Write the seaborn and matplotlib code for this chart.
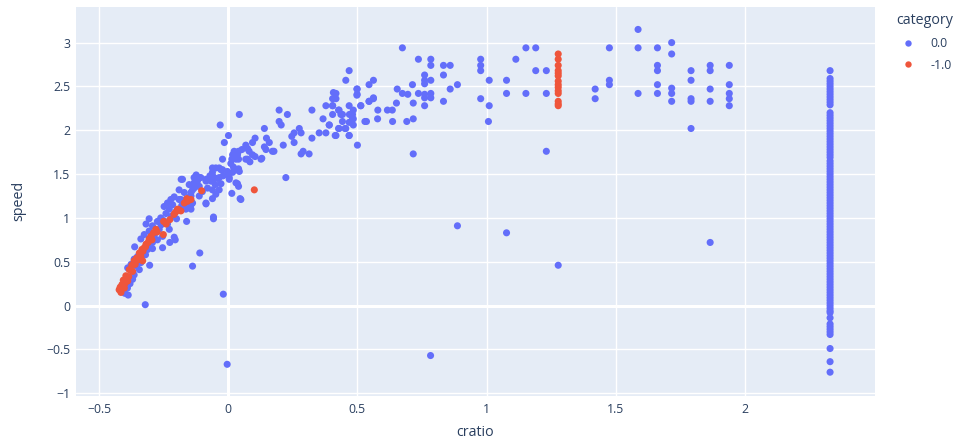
import matplotlib
matplotlib.use("Agg")
import matplotlib.pyplot as plt
import seaborn as sns
import pandas as pd

# ---------------- data ----------------
blue_x = [
    -0.110, -0.138, -0.019, -0.321, -0.182, -0.124, -0.306, -0.362, -0.304, -0.387,
    -0.205, -0.226, -0.254, -0.293, -0.209, -0.228, -0.235, -0.200, -0.161, -0.144,
    -0.138, -0.112, -0.086, -0.048, -0.035, -0.050, -0.067, -0.086, -0.112, -0.132,
    -0.144, -0.164, -0.190, -0.215, -0.228, -0.241, -0.261, -0.274, -0.293, -0.306,
    -0.325, -0.338, -0.286, -0.267, -0.254, -0.274, -0.293, -0.312, -0.331, -0.351,
    -0.364, -0.376, -0.389, -0.338, -0.344, -0.364, -0.370, -0.402, -0.396, -0.409,
    -0.318, -0.248, -0.235, -0.222, -0.209, -0.170, -0.132, -0.112, -0.061, -0.022,
    -0.035, -0.061, 0.030, 0.030, 0.036, 0.075, 0.094, 0.130, 0.171, 0.043,
    -0.003, -0.161, -0.057, 0.049,
    -0.400, -0.390, -0.380, -0.370, -0.355, -0.350, -0.340, -0.320, -0.310, -0.300,
    -0.280, -0.260, -0.250, -0.220, -0.200, -0.180, -0.170, -0.150, -0.100, -0.080,
    -0.060, -0.040, -0.020, 0.000, 0.010, 0.020,
    0.407, 0.417, 0.498, 0.498, 0.562, 0.545, 0.378, 0.404, 0.197, 0.229,
    0.324, 0.043, 0.197, 0.205, 0.429, 0.442, 0.481, 0.468, 0.481, 0.513,
    0.529, 0.535, 0.367, 0.391, 0.429, 0.452, 0.352, 0.378, 0.417, 0.468,
    0.500, 0.275, 0.282, 0.255, 0.246, 0.255, 0.324, 0.290, 0.282, 0.313,
    0.213, 0.177, 0.140, 0.148, 0.159, 0.140, 0.146, 0.104, 0.094, 0.068,
    0.053, 0.040, 0.023, 0.075, 0.081, 0.001, -0.015, -0.031, 0.017, 0.032,
    -0.022, 0.014, 0.040, 0.068, 0.084, 0.104, 0.127, 0.030, 0.040, 0.017,
    0.004, -0.048, -0.028, -0.061, -0.071, -0.054, -0.035, -0.086, -0.028, 0.004,
    0.036, 0.040, 0.223, 0.014, 0.046, -0.086, -0.061, -0.061, -0.138, -0.125,
    -0.119, -0.106, -0.132, -0.151, -0.177, -0.190, -0.144, -0.144, -0.183, -0.164,
    -0.057,
    0.674, 0.736, 0.784, 0.784, 0.833, 0.859, 0.760, 0.760, 0.760, 0.784,
    0.833, 0.859, 0.887, 0.713, 0.654, 0.674, 0.695, 0.736, 0.760, 0.760,
    0.784, 0.784, 0.716, 0.760, 0.833, 0.651, 0.579, 0.616, 0.635, 0.578,
    0.636, 0.691, 0.716, 0.716, 0.977, 0.977, 0.977, 1.010, 1.077, 1.113,
    1.152, 1.190, 1.190, 0.977, 1.010, 1.007, 1.077, 1.152, 0.468, 0.455,
    0.417, 0.404, 0.499, 0.499, 0.545, 0.562, 0.562, 0.545, 0.404, 0.427,
    0.436, 0.404, 0.468, 0.469, 0.484, 0.484, 0.513, 0.442, 0.391, 0.427,
    0.455, 0.484, 0.414, 0.468,
    1.231, 1.231, 1.420, 1.420, 1.475, 1.475, 1.475, 1.586, 1.586, 1.586,
    1.661, 1.661, 1.661, 1.661, 1.661, 1.716, 1.716, 1.716, 1.716, 1.716,
    1.791, 1.791, 1.791, 1.791, 1.791, 1.865, 1.865, 1.865, 1.865, 1.939,
    1.939, 1.939, 1.939, 1.939, 1.865,
    0.887, 1.077, 1.277, 0.783, -0.004, 1.231,
]
blue_y = [
    0.60, 0.45, 0.13, 0.01, 1.44, 1.49, 0.99, 0.67, 0.46, 0.12,
    0.75, 0.72, 0.66, 0.65, 0.78, 0.87, 0.93, 0.99, 1.13, 1.10,
    1.17, 1.25, 1.17, 1.27, 1.32, 1.38, 1.42, 1.44, 1.36, 1.34,
    1.29, 1.21, 1.21, 1.15, 1.10, 1.05, 1.00, 0.96, 0.91, 0.85,
    0.81, 0.76, 0.81, 0.87, 0.79, 0.75, 0.72, 0.64, 0.60, 0.56,
    0.53, 0.47, 0.43, 0.49, 0.41, 0.35, 0.30, 0.28, 0.22, 0.16,
    0.93, 1.13, 1.17, 1.21, 1.24, 1.29, 1.40, 1.46, 1.48, 1.55,
    1.57, 1.57, 1.40, 1.67, 1.72, 1.67, 1.72, 1.68, 1.76, 1.53,
    1.53, 0.96, 0.99, 1.21,
    0.14, 0.20, 0.25, 0.38, 0.45, 0.50, 0.55, 0.58, 0.70, 0.78,
    0.84, 0.92, 0.97, 1.02, 1.08, 1.14, 1.18, 1.24, 1.30, 1.34,
    1.42, 1.45, 1.48, 1.50, 1.62, 1.58,
    2.43, 2.36, 2.47, 2.40, 2.36, 2.33, 2.28, 2.28, 2.23, 2.18,
    2.23, 2.18, 2.10, 2.06, 2.23, 2.18, 2.18, 2.09, 2.13, 2.28,
    2.10, 2.10, 2.13, 2.06, 2.02, 2.02, 1.97, 1.97, 1.94, 1.94,
    1.83, 2.02, 1.97, 1.97, 1.93, 1.86, 1.91, 1.76, 1.73, 1.73,
    1.83, 1.76, 2.02, 1.91, 1.86, 1.81, 1.78, 1.91, 1.86, 1.83,
    1.78, 1.76, 1.76, 1.79, 1.76, 1.94, 1.86, 2.06, 1.72, 1.70,
    1.67, 1.67, 1.67, 1.67, 1.64, 1.70, 1.67, 1.55, 1.56, 1.52,
    1.46, 1.57, 1.55, 1.52, 1.48, 1.46, 1.46, 1.42, 1.39, 1.44,
    1.39, 1.36, 1.46, 1.28, 1.22, 1.16, 1.22, 1.32, 1.32, 1.36,
    1.42, 1.46, 1.46, 1.38, 1.44, 1.32, 1.25, 1.15, 1.21, 1.10,
    1.01,
    2.94, 2.81, 2.81, 2.74, 2.74, 2.74, 2.63, 2.57, 2.53, 2.57,
    2.63, 2.47, 2.52, 2.52, 2.47, 2.42, 2.41, 2.42, 2.41, 2.37,
    2.42, 2.37, 2.31, 2.28, 2.33, 2.31, 2.23, 2.23, 2.23, 2.13,
    2.10, 2.10, 2.13, 1.73, 2.81, 2.74, 2.68, 2.57, 2.57, 2.81,
    2.94, 2.94, 2.68, 2.36, 2.28, 2.10, 2.42, 2.42, 2.68, 2.57,
    2.42, 2.36, 2.47, 2.41, 2.52, 2.57, 2.37, 2.33, 2.28, 2.23,
    2.18, 2.18, 2.28, 2.18, 2.23, 2.13, 2.28, 2.10, 2.06, 2.02,
    2.02, 2.06, 1.94, 1.94,
    2.68, 2.42, 2.47, 2.36, 2.94, 2.57, 2.52, 3.15, 2.94, 2.42,
    2.94, 2.74, 2.68, 2.52, 2.42, 3.00, 2.87, 2.48, 2.42, 2.33,
    2.68, 2.57, 2.36, 2.33, 2.02, 2.74, 2.68, 2.47, 2.33, 2.74,
    2.52, 2.42, 2.36, 2.28, 0.72,
    0.91, 0.83, 0.46, -0.57, -0.67, 1.76,
]

column_x_value = 2.329
column_y = [
    2.68, 2.59, 2.56, 2.53, 2.50, 2.47, 2.44, 2.41, 2.38, 2.35, 2.32, 2.29,
    2.20, 2.17, 2.14, 2.11, 2.08, 2.05, 2.02, 1.99, 1.96, 1.93, 1.90, 1.87,
    1.84, 1.81, 1.78, 1.75, 1.72, 1.69,
    1.65, 1.62, 1.59, 1.56, 1.53, 1.50, 1.47, 1.44, 1.41, 1.38, 1.35, 1.32,
    1.29, 1.26, 1.23, 1.20, 1.17, 1.14, 1.11, 1.08, 1.05,
    1.02, 0.99, 0.96, 0.93, 0.90, 0.87, 0.84, 0.81, 0.78, 0.75, 0.72, 0.69,
    0.66, 0.63, 0.60, 0.57, 0.54, 0.51, 0.48, 0.45, 0.42, 0.39, 0.36, 0.33,
    0.30, 0.27, 0.24, 0.21, 0.18, 0.15, 0.12, 0.09, 0.06, 0.03, 0.00, -0.03,
    -0.06, -0.08, -0.14, -0.21, -0.24, -0.27, -0.30, -0.33, -0.49, -0.64, -0.76,
]

red_x = [
    -0.103, -0.144, -0.157, -0.183, -0.196, -0.205, -0.226, -0.250, -0.251, -0.280,
    -0.289, -0.299, -0.306, -0.318, -0.325, -0.334, -0.344, -0.355, -0.364, -0.373,
    -0.383, -0.396, -0.406, -0.411, -0.422, -0.415, -0.402, -0.389, -0.338, -0.331,
    -0.418, -0.400, -0.385, -0.370, -0.360, -0.350, -0.340, -0.330, -0.320, -0.310,
    -0.295, -0.275, -0.240, -0.210, -0.190, -0.170, -0.160,
    0.101,
]
red_y = [
    1.31, 1.21, 1.19, 1.08, 1.10, 1.06, 0.98, 0.96, 0.81, 0.87,
    0.83, 0.79, 0.76, 0.70, 0.66, 0.64, 0.60, 0.54, 0.51, 0.46,
    0.41, 0.34, 0.29, 0.24, 0.18, 0.15, 0.20, 0.28, 0.56, 0.51,
    0.21, 0.25, 0.33, 0.39, 0.47, 0.52, 0.58, 0.62, 0.67, 0.72,
    0.75, 0.84, 0.93, 1.04, 1.09, 1.17, 1.22,
    1.32,
]
red_column_x_value = 1.277
red_column_y = [2.87, 2.81, 2.74, 2.68, 2.65, 2.62, 2.56, 2.52, 2.49, 2.45, 2.42,
                2.33, 2.30, 2.28]

categories = ["0.0", "-1.0"]
x_ticks = [-0.5, 0, 0.5, 1, 1.5, 2]
x_tick_labels = ["\u22120.5", "0", "0.5", "1", "1.5", "2"]
y_ticks = [-1, -0.5, 0, 0.5, 1, 1.5, 2, 2.5, 3]
y_tick_labels = ["\u22121", "\u22120.5", "0", "0.5", "1", "1.5", "2", "2.5", "3"]

# ---------------- frame ----------------
bx = blue_x + [column_x_value] * len(column_y)
by = blue_y + column_y
rx = red_x + [red_column_x_value] * len(red_column_y)
ry = red_y + red_column_y

df = pd.DataFrame({
    "cratio": bx + rx,
    "speed": by + ry,
    "category": [categories[0]] * len(bx) + [categories[1]] * len(rx),
})

# ---------------- style ----------------
sns.set_theme(style="darkgrid")
plt.rcParams["font.family"] = ["Open Sans", "DejaVu Sans"]
text_color = "#2a3f5f"
bg = "#E5ECF6"

fig = plt.figure(figsize=(9.6, 4.43), dpi=100)
fig.patch.set_facecolor("white")
ax = fig.add_axes([0.0789, 0.1068, 0.9115 - 0.0789, 0.985 - 0.1068])
ax.set_facecolor(bg)

sns.scatterplot(
    data=df, x="cratio", y="speed", hue="category", hue_order=categories,
    palette={"0.0": "#636EFA", "-1.0": "#EF553B"},
    s=26, linewidth=0, alpha=1.0, ax=ax, zorder=3,
)

ax.set_xlim(-0.590, 2.503)
ax.set_ylim(-1.028, 3.41)
ax.set_xticks(x_ticks)
ax.set_xticklabels(x_tick_labels)
ax.set_yticks(y_ticks)
ax.set_yticklabels(y_tick_labels)
ax.grid(True, color="white", linewidth=1.0, zorder=0)
ax.set_axisbelow(True)
ax.axvline(0, color="white", linewidth=2.2, zorder=1)
ax.axhline(0, color="white", linewidth=2.2, zorder=1)
for s in ax.spines.values():
    s.set_visible(False)
ax.tick_params(axis="both", which="both", length=0, labelsize=8.8, colors=text_color)
ax.tick_params(axis="x", pad=5)
ax.tick_params(axis="y", pad=4)
ax.set_xlabel("cratio", fontsize=10.3, color=text_color, labelpad=7)
ax.set_ylabel("speed", fontsize=10.3, color=text_color, labelpad=14)

leg = ax.legend(
    title="category", loc="upper left", bbox_to_anchor=(1.02, 0.995),
    frameon=False, fontsize=8.8, title_fontsize=10.3, markerscale=0.9,
    handletextpad=0.8, labelspacing=0.7, borderaxespad=0.0,
)
leg._legend_box.align = "left"
for t in leg.get_texts():
    t.set_color(text_color)
leg.get_title().set_color(text_color)

fig.savefig("out.png", dpi=100, facecolor="white")
